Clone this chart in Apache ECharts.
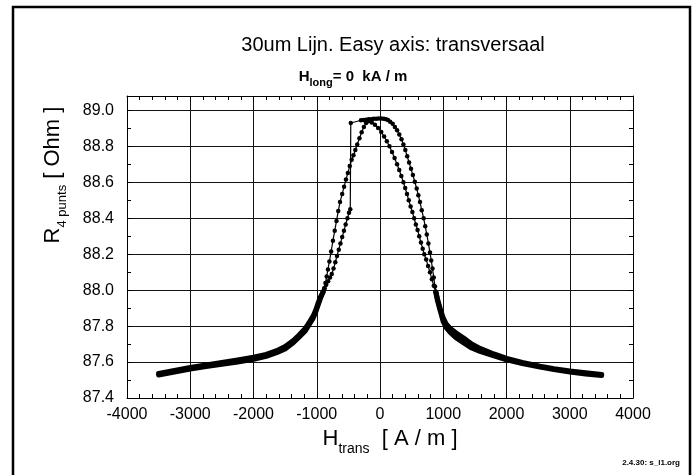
<!DOCTYPE html>
<html>
<head>
<meta charset="utf-8">
<script src="https://cdn.jsdelivr.net/npm/echarts@6/dist/echarts.min.js"></script>
<style>html,body{margin:0;padding:0;background:#fff;}#c{width:696px;height:475px;}</style>
</head>
<body>
<div id="c"></div>
<script>
// ---- data (H_trans [A/m], R [Ohm]) ----
const xTicks = [-4000, -3000, -2000, -1000, 0, 1000, 2000, 3000, 4000];
const yTicks = [87.4, 87.6, 87.8, 88.0, 88.2, 88.4, 88.6, 88.8, 89.0];

// forward sweep (-3500 -> +3500)
const fwdTailLeft = [[-3500,87.528],[-3250,87.544],[-3000,87.561],[-2750,87.575],[-2500,87.588],[-2250,87.600],[-2000,87.615],[-1800,87.632],[-1634,87.652],[-1500,87.673],[-1371,87.707],[-1280,87.738],[-1186,87.771],[-1120,87.808],[-1054,87.846],[-1010,87.884],[-975,87.921],[-940,87.956],[-900,87.990]];
const fwdRise = [[-900,87.99],[-875,88.01],[-850,88.03],[-820,88.05],[-790,88.07],[-763,88.09],[-735,88.12],[-707,88.155],[-680,88.19],[-652,88.225],[-625,88.26],[-598,88.295],[-570,88.33],[-543,88.365],[-515,88.40],[-490,88.43],[-470,88.45],
  [-462,88.93],[-300,88.945],[-260,88.947],[-220,88.948],[-180,88.95],[-140,88.951],[-100,88.953],[-60,88.954],[-20,88.955],[20,88.955],[60,88.954],[95,88.951],[126,88.947],
  [160,88.937],[200,88.925],[235,88.908],[270,88.89],[305,88.866],[340,88.84],[370,88.81],[400,88.78],[430,88.745],[460,88.71],[490,88.675],[520,88.64],[550,88.603],[580,88.565],[606,88.528],[632,88.49],[660,88.445],[690,88.40],[715,88.355],[740,88.31],[765,88.26],[790,88.21],[810,88.165],[830,88.12],[850,88.07],[870,88.02],[885,87.99]];
const fwdTailRight = [[885,87.99],[910,87.95],[940,87.912],[970,87.876],[1001,87.845],[1050,87.81],[1107,87.788],[1200,87.763],[1317,87.735],[1450,87.70],[1581,87.676],[1800,87.645],[2003,87.62],[2250,87.598],[2530,87.577],[2750,87.563],[3004,87.55],[3250,87.54],[3505,87.531]];

// backward sweep (+3500 -> -3500)
const bwdTailRight = [[3505,87.525],[3250,87.534],[3004,87.544],[2750,87.558],[2530,87.572],[2250,87.592],[2003,87.612],[1800,87.634],[1581,87.659],[1450,87.678],[1317,87.708],[1200,87.735],[1107,87.766],[1050,87.79],[1001,87.823],[970,87.862],[940,87.90],[910,87.94],[880,87.99]];
const bwdArc = [[880,87.99],[850,88.025],[820,88.06],[790,88.10],[760,88.135],[730,88.17],[700,88.20],[675,88.23],[648,88.265],[620,88.30],[594,88.335],[567,88.365],[540,88.40],[512,88.435],[484,88.465],[455,88.50],[427,88.535],[398,88.568],[370,88.60],[337,88.635],[304,88.668],[270,88.70],[230,88.735],[190,88.768],[150,88.80],[108,88.828],[65,88.855],[20,88.88],[-30,88.902],[-80,88.92],[-130,88.933],[-184,88.94],
  [-220,88.93],[-255,88.908],[-290,88.878],[-325,88.845],[-360,88.81],[-390,88.78],[-420,88.75],[-448,88.725],[-478,88.69],[-508,88.652],[-538,88.615],[-568,88.575],[-598,88.535],[-632,88.49],[-660,88.44],[-688,88.385],[-716,88.33],[-744,88.275],[-772,88.215],[-800,88.16],[-823,88.115],[-843,88.076],[-863,88.04],[-882,88.01],[-900,87.99]];
const bwdTailLeft = [[-900,87.99],[-940,87.963],[-975,87.932],[-1010,87.895],[-1054,87.858],[-1120,87.82],[-1186,87.785],[-1280,87.75],[-1371,87.72],[-1500,87.687],[-1634,87.663],[-1800,87.643],[-2000,87.627],[-2250,87.612],[-2500,87.598],[-2750,87.584],[-3000,87.570],[-3250,87.553],[-3500,87.536]];

const FONT = "'Liberation Sans', Arial, Helvetica, sans-serif";
const chart = echarts.init(document.getElementById('c'), null, {renderer: 'canvas'});

function tailSeries(d) {
  return {type: 'line', data: d, showSymbol: false, symbol: 'none', smooth: false,
    lineStyle: {color: '#000', width: 5, cap: 'round', join: 'round'}, z: 3, silent: true};
}
function dotSeries(d) {
  return {type: 'line', data: d, symbol: 'circle', symbolSize: 4.5, showSymbol: true, smooth: false,
    itemStyle: {color: '#000'}, lineStyle: {color: '#000', width: 1.2}, z: 4, silent: true};
}

const axisCommon = {
  axisLine: {show: true, onZero: false, lineStyle: {color: '#000', width: 1}},
  axisTick: {show: true, inside: true, length: 5, lineStyle: {color: '#000'}},
};

chart.setOption({
  animation: false,
  backgroundColor: '#fff',
  grid: {left: 127, right: 63, top: 96, bottom: 77, containLabel: false},
  xAxis: [
    Object.assign({type: 'value', min: xTicks[0], max: xTicks[xTicks.length - 1], interval: 1000, position: 'bottom',
      minorTick: {show: true, splitNumber: 5, length: 4, lineStyle: {color: '#000'}},
      splitLine: {show: true, lineStyle: {color: '#111', width: 1}},
      axisLabel: {fontSize: 16, color: '#000', margin: 9, fontFamily: FONT, formatter: function (v) { return String(v); }}}, axisCommon),
    Object.assign({type: 'value', min: xTicks[0], max: xTicks[xTicks.length - 1], interval: 1000, position: 'top',
      minorTick: {show: true, splitNumber: 5, length: 4, lineStyle: {color: '#000'}},
      splitLine: {show: false}, axisLabel: {show: false}}, axisCommon)
  ],
  yAxis: [
    Object.assign({type: 'value', min: yTicks[0], max: 89.08, interval: 0.2, position: 'left',
      minorTick: {show: true, splitNumber: 2, length: 4, lineStyle: {color: '#000'}},
      splitLine: {show: true, lineStyle: {color: '#111', width: 1}},
      axisLabel: {fontSize: 16, color: '#000', margin: 13, fontFamily: FONT, showMaxLabel: false,
        formatter: function (v) {
          const k = (v - yTicks[0]) / 0.2;
          return Math.abs(k - Math.round(k)) < 1e-6 ? v.toFixed(1) : '';
        }}}, axisCommon),
    Object.assign({type: 'value', min: yTicks[0], max: 89.08, interval: 0.2, position: 'right',
      minorTick: {show: true, splitNumber: 2, length: 4, lineStyle: {color: '#000'}},
      splitLine: {show: false}, axisLabel: {show: false}}, axisCommon)
  ],
  series: [
    tailSeries(fwdTailLeft), dotSeries(fwdRise), tailSeries(fwdTailRight),
    tailSeries(bwdTailRight), dotSeries(bwdArc), tailSeries(bwdTailLeft)
  ],
  graphic: [
    {type: 'rect', shape: {x: 13, y: 7, width: 677, height: 480}, style: {fill: 'none', stroke: '#000', lineWidth: 2.5}, z: 100},
    {type: 'text', x: 393, y: 45, style: {text: '30um Lijn. Easy axis: transversaal', font: '20px ' + FONT, fill: '#000', align: 'center', verticalAlign: 'middle'}},
    {type: 'text', x: 353, y: 75, style: {
      text: '{a|H}{s|long}{a|= 0  kA / m}', align: 'center', verticalAlign: 'middle', fill: '#000',
      rich: {a: {fontSize: 15, fontWeight: 'bold', fontFamily: FONT, verticalAlign: 'bottom', lineHeight: 18},
             s: {fontSize: 11, fontWeight: 'bold', fontFamily: FONT, verticalAlign: 'bottom', lineHeight: 18, padding: [0, 0, -4, 0]}}}},
    {type: 'text', x: 51, y: 175, rotation: Math.PI / 2, style: {
      text: '{a|R}{s|4 punts}{a| [ Ohm ]}', align: 'center', verticalAlign: 'middle', fill: '#000',
      rich: {a: {fontSize: 22, fontFamily: FONT, verticalAlign: 'bottom', lineHeight: 26},
             s: {fontSize: 13, fontFamily: FONT, verticalAlign: 'bottom', lineHeight: 26, padding: [0, 0, -5, 0]}}}},
    {type: 'text', x: 390, y: 437, style: {
      text: '{a|H}{s|trans}{a|  [ A / m ]}', align: 'center', verticalAlign: 'middle', fill: '#000',
      rich: {a: {fontSize: 22, fontFamily: FONT, verticalAlign: 'bottom', lineHeight: 26},
             s: {fontSize: 14, fontFamily: FONT, verticalAlign: 'bottom', lineHeight: 26, padding: [0, 0, -6, 0]}}}},
    {type: 'text', x: 680, y: 463, style: {text: '2.4.30: s_l1.org', font: 'bold 8px ' + FONT, fill: '#000', align: 'right', verticalAlign: 'middle'}}
  ]
});
</script>
</body>
</html>
